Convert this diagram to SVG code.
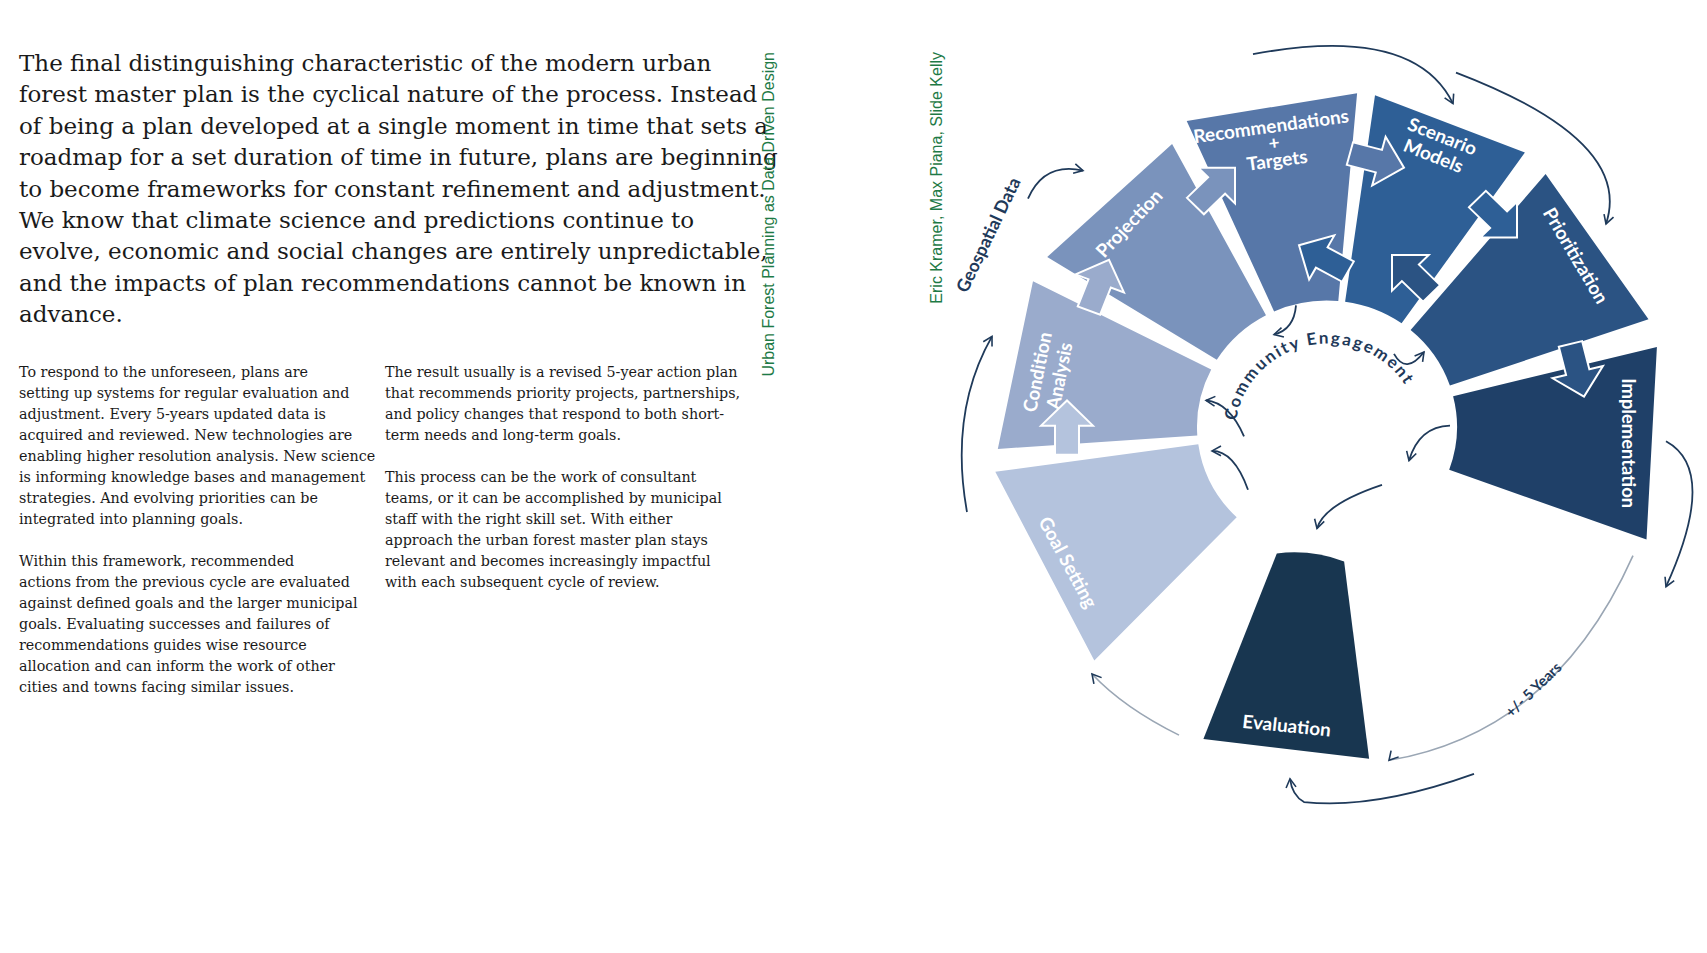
<svg xmlns="http://www.w3.org/2000/svg" width="1707" height="953" viewBox="0 0 1707 953">
<style>
.h{font-family:"DejaVu Serif",serif;font-size:23px;fill:#1a1a1a}
.b{font-family:"DejaVu Serif",serif;font-size:14.3px;fill:#1a1a1a}
.g{font-family:"Liberation Sans",sans-serif;font-size:16px;fill:#1e7a46}
.l{font-family:Lato,"Liberation Sans",sans-serif;font-size:19px;font-weight:bold;fill:#fff;text-anchor:middle}
.d{font-family:Lato,"Liberation Sans",sans-serif;font-weight:bold;fill:#1f3a5a}
.c{fill:none;stroke:#1f3a5a;stroke-width:1.8}
.ba{stroke:#fff;stroke-width:2}
</style>
<defs>
<marker id="m" viewBox="0 0 12 12" refX="10" refY="6" markerWidth="12" markerHeight="12" markerUnits="userSpaceOnUse" orient="auto"><path d="M1,1 L10,6 L1,11" fill="none" stroke="#1f3a5a" stroke-width="1.6"/></marker>
<polygon id="arr" points="-56,-12 -26,-12 -26,-26 0,0 -26,26 -26,12 -56,12"/>
<path id="ce" d="M1242,461 A92,92 0 1 1 1425,461"/>
</defs>
<rect width="1707" height="953" fill="#fff"/>
<g id="text-left">
<text class="h"><tspan x="19" y="71">The final distinguishing characteristic of the modern urban</tspan><tspan x="19" y="102.4">forest master plan is the cyclical nature of the process. Instead</tspan><tspan x="19" y="133.8">of being a plan developed at a single moment in time that sets a</tspan><tspan x="19" y="165.2">roadmap for a set duration of time in future, plans are beginning</tspan><tspan x="19" y="196.6">to become frameworks for constant refinement and adjustment.</tspan><tspan x="19" y="228">We know that climate science and predictions continue to</tspan><tspan x="19" y="259.4">evolve, economic and social changes are entirely unpredictable,</tspan><tspan x="19" y="290.8">and the impacts of plan recommendations cannot be known in</tspan><tspan x="19" y="322.2">advance.</tspan></text>
<text class="b"><tspan x="19" y="377">To respond to the unforeseen, plans are</tspan><tspan x="19" y="398">setting up systems for regular evaluation and</tspan><tspan x="19" y="419">adjustment. Every 5-years updated data is</tspan><tspan x="19" y="440">acquired and reviewed. New technologies are</tspan><tspan x="19" y="461">enabling higher resolution analysis. New science</tspan><tspan x="19" y="482">is informing knowledge bases and management</tspan><tspan x="19" y="503">strategies. And evolving priorities can be</tspan><tspan x="19" y="524">integrated into planning goals.</tspan><tspan x="19" y="566">Within this framework, recommended</tspan><tspan x="19" y="587">actions from the previous cycle are evaluated</tspan><tspan x="19" y="608">against defined goals and the larger municipal</tspan><tspan x="19" y="629">goals. Evaluating successes and failures of</tspan><tspan x="19" y="650">recommendations guides wise resource</tspan><tspan x="19" y="671">allocation and can inform the work of other</tspan><tspan x="19" y="692">cities and towns facing similar issues.</tspan></text>
<text class="b"><tspan x="385" y="377">The result usually is a revised 5-year action plan</tspan><tspan x="385" y="398">that recommends priority projects, partnerships,</tspan><tspan x="385" y="419">and policy changes that respond to both short-</tspan><tspan x="385" y="440">term needs and long-term goals.</tspan><tspan x="385" y="482">This process can be the work of consultant</tspan><tspan x="385" y="503">teams, or it can be accomplished by municipal</tspan><tspan x="385" y="524">staff with the right skill set. With either</tspan><tspan x="385" y="545">approach the urban forest master plan stays</tspan><tspan x="385" y="566">relevant and becomes increasingly impactful</tspan><tspan x="385" y="587">with each subsequent cycle of review.</tspan></text>
<text class="g" transform="translate(774,52) rotate(-90)" text-anchor="end">Urban Forest Planning as Data Driven Design</text>
<text class="g" transform="translate(942,52) rotate(-90)" text-anchor="end">Eric Kramer, Max Piana, Slide Kelly</text>
</g>
<g transform="matrix(1 0 0 0.97 -6 -5)">
<g id="n-goal"><path d="M1100.3,686 L1001.3,491.6 L1204.3,463.1 A130,130 0 0 0 1242.7,538.5 Z" fill="#b4c3dd"/><text class="l" transform="translate(1068,588) rotate(62)">Goal Setting</text></g>
<g id="n-condition"><path d="M1003.8,468 L1039,295.2 L1217.2,386 A130,130 0 0 0 1203.3,454.1 Z" fill="#9aabcc"/><text class="l" transform="translate(1050,390) rotate(-79)">Condition</text><text class="l" transform="translate(1072,394) rotate(-79)">Analysis</text></g>
<g id="n-projection"><path d="M1053.2,270.1 L1178.1,153.6 L1272,330.2 A130,130 0 0 0 1222.8,376.1 Z" fill="#7a93bc"/><text class="l" transform="translate(1140,240) rotate(-47)">Projection</text></g>
<g id="n-recommendations"><path d="M1192.7,129.8 L1363.1,101.3 L1344.3,315.5 A130,130 0 0 0 1280.1,326.2 Z" fill="#5777a8"/><text class="l" transform="translate(1278,142) rotate(-8)">Recommendations</text><text class="l" transform="translate(1281,159) rotate(-8)">+</text><text class="l" transform="translate(1284,177) rotate(-8)">Targets</text></g>
<g id="n-scenario"><path d="M1381,103.4 L1530.9,162.4 L1407.6,338.5 A130,130 0 0 0 1351.1,316.3 Z" fill="#2e5f96"/><text class="l" transform="translate(1446,152) rotate(22)">Scenario</text><text class="l" transform="translate(1437,172) rotate(22)">Models</text></g>
<g id="n-prioritization"><path d="M1551.6,184.6 L1654.5,334.3 L1455.9,402.7 A130,130 0 0 0 1416.6,345.4 Z" fill="#2b5383"/><text class="l" transform="translate(1576,272) rotate(60)">Prioritization</text></g>
<g id="n-implementation"><path d="M1662.9,362.8 L1652.5,561.3 L1455.2,489.5 A130,130 0 0 0 1459.1,413.6 Z" fill="#1f4068"/><text class="l" transform="translate(1628,462) rotate(90)">Implementation</text></g>
<g id="n-evaluation"><path d="M1375.1,787.4 L1209.4,767.1 L1282.8,575.7 A140,140 0 0 1 1350.1,583.9 Z" fill="#183650"/><text class="l" transform="translate(1292,760) rotate(6)">Evaluation</text></g>
<g id="block-arrows" class="ba">
<use href="#arr" transform="translate(1073,418) rotate(-90)" fill="#b4c3dd"/>
<use href="#arr" transform="translate(1115,273) rotate(-69)" fill="#9aabcc"/>
<use href="#arr" transform="translate(1241,178) rotate(-45)" fill="#7a93bc"/>
<use href="#arr" transform="translate(1410,178) rotate(15)" fill="#5777a8"/>
<use href="#arr" transform="translate(1305,258) rotate(209)" fill="#2e5f96"/>
<use href="#arr" transform="translate(1523,250) rotate(45)" fill="#2e5f96"/>
<use href="#arr" transform="translate(1398,268) rotate(225)" fill="#2b5383"/>
<use href="#arr" transform="translate(1590,414) rotate(76)" fill="#2b5383"/>
</g>
<g id="connectors">
<path class="c" d="M1259,61 Q1420,30 1459,112" marker-end="url(#m)"/>
<path class="c" d="M1462,80 Q1640,150 1612,236" marker-end="url(#m)"/>
<path class="c" d="M973,533 Q955,430 998,352" marker-end="url(#m)"/>
<path class="c" d="M1034,210 Q1050,172 1089,181" marker-end="url(#m)"/>
<path class="c" d="M1672,460 Q1725,490 1672,610" marker-end="url(#m)"/>
<path d="M1639,578 Q1560,760 1395,789" fill="none" stroke="#9aa6b4" stroke-width="1.6"/>
<path class="c" d="M1430,730 Q1420,760 1395,789" marker-end="url(#m)" stroke-opacity="0"/>
<path class="c" d="M1480,803 Q1380,840 1310,832 Q1298,825 1296,808" marker-end="url(#m)"/>
<path d="M1185,763 Q1130,735 1098,700" fill="none" stroke="#9aa6b4" stroke-width="1.6"/>
<path class="c" d="M1120,722 Q1108,712 1098,700" marker-end="url(#m)" stroke-opacity="0"/>
<path class="c" d="M1302,320 Q1300,345 1280,350" marker-end="url(#m)"/>
<path class="c" d="M1400,370 Q1412,392 1430,368" marker-end="url(#m)"/>
<path class="c" d="M1456,444 Q1425,445 1415,480" marker-end="url(#m)"/>
<path class="c" d="M1388,505 Q1330,525 1323,550" marker-end="url(#m)"/>
<path class="c" d="M1254,510 Q1240,470 1218,470" marker-end="url(#m)"/>
<path class="c" d="M1250,455 Q1235,420 1212,418" marker-end="url(#m)"/>
</g>
<g id="labels">
<text class="d" font-size="17" letter-spacing="2"><textPath href="#ce" startOffset="22">Community Engagement</textPath></text>
<text class="d" font-size="18" transform="translate(1000,250) rotate(-65)" text-anchor="middle">Geospatial Data</text>
<text class="d" font-size="15" transform="translate(1543,720) rotate(-45)" text-anchor="middle">+/- 5 Years</text>
</g>
</g>
</svg>
